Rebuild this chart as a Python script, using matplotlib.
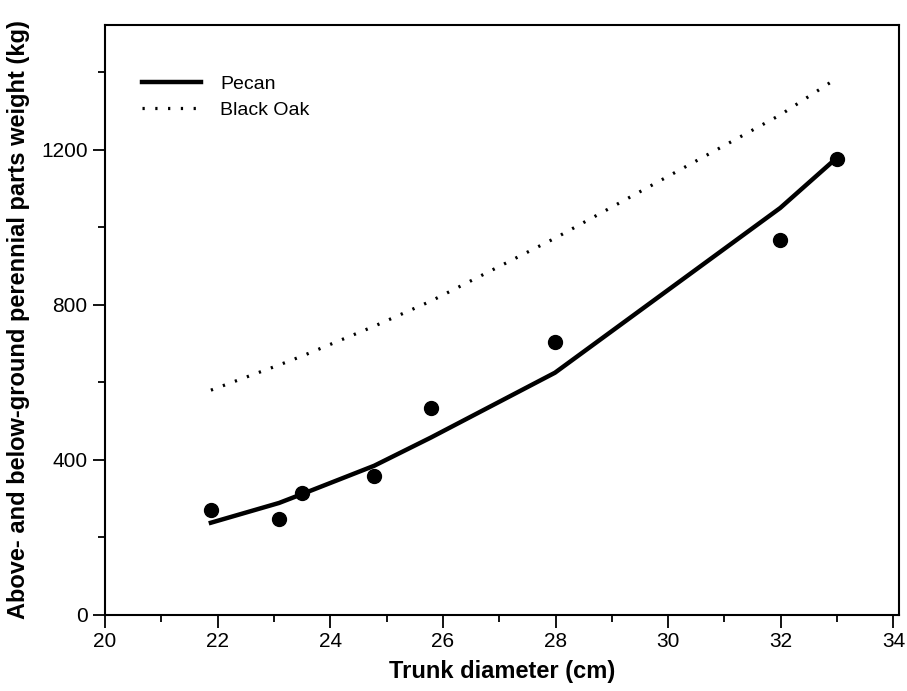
import matplotlib.pyplot as plt
from matplotlib.ticker import MultipleLocator

plt.rcParams['font.family'] = ['Liberation Sans', 'DejaVu Sans']

# observed pecan weights
diam_obs = [21.88, 23.09, 23.5, 24.78, 25.79, 27.99, 31.99, 33.0]
weight_obs = [271, 248, 315, 359, 534, 705, 968, 1177]

# fitted curves
diam_fit = [21.88, 23.09, 23.5, 24.78, 25.79, 27.99, 31.99, 33.0]
pecan_fit = [238, 289, 312, 385, 458, 625, 1050, 1180]
oak_fit = [580, 645, 668, 745, 810, 972, 1290, 1385]

fig = plt.figure(figsize=(9.07, 6.91), dpi=100)
ax = fig.add_axes([0.1158, 0.110, 0.8754, 0.8538])

ax.plot(diam_fit, pecan_fit, color='black', lw=3.2, label='Pecan')
ax.plot(diam_fit, oak_fit, color='black', lw=2.3, linestyle=(0, (0.7, 3.3)),
        label='Black Oak')
ax.plot(diam_obs, weight_obs, 'o', color='black', ms=10, label='_nolegend_')

ax.set_xlim(20, 34.1)
ax.set_ylim(0, 1522)
ax.xaxis.set_major_locator(MultipleLocator(2))
ax.xaxis.set_minor_locator(MultipleLocator(1))
ax.yaxis.set_major_locator(MultipleLocator(400))
ax.yaxis.set_minor_locator(MultipleLocator(200))
ax.tick_params(which='major', direction='out', length=9, width=1.3, labelsize=15)
ax.tick_params(which='minor', direction='out', length=5, width=1.3)
for s in ax.spines.values():
    s.set_linewidth(1.5)

ax.set_xlabel('Trunk diameter (cm)', fontsize=17, fontweight='bold', labelpad=6)
ax.set_ylabel('Above- and below-ground perennial parts weight (kg)', fontsize=17,
              fontweight='bold', labelpad=8)

ax.legend(loc='upper left', bbox_to_anchor=(0.025, 0.945), frameon=False,
          fontsize=14, handlelength=3.0, handletextpad=1.0, labelspacing=0.45)

fig.savefig('out.png', dpi=100)
